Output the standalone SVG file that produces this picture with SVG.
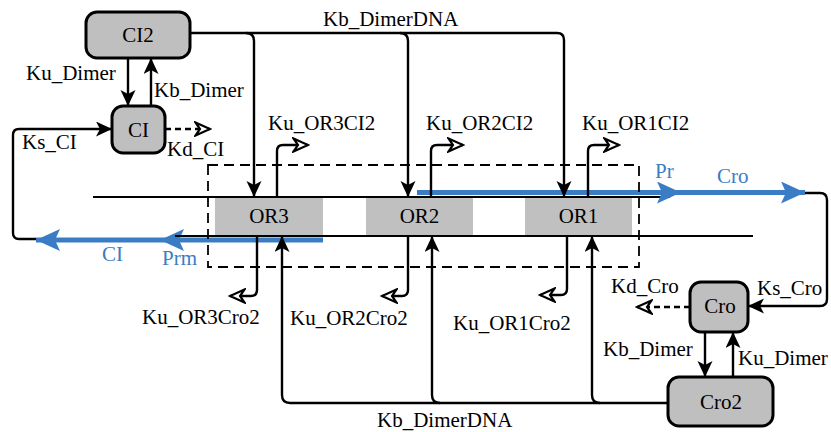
<svg xmlns="http://www.w3.org/2000/svg" width="831" height="432" viewBox="0 0 831 432">
  <style>
    text { font-family: "Liberation Serif", "Times New Roman", serif; font-size: 21px; fill: #000; }
    .blue-t { fill: #3b7dc4; }
    .node { fill: #bfbfbf; stroke: #000; stroke-width: 3; }
    .site { fill: #c0c0c0; stroke: none; }
    .mid { text-anchor: middle; }
    .ln { fill: none; stroke: #000; stroke-width: 2.4; }
    .dash { fill: none; stroke: #000; stroke-width: 2.4; stroke-dasharray: 6 4; }
    .dna { fill: none; stroke: #000; stroke-width: 2.2; }
    .tr { fill: none; stroke: #3b7dc4; stroke-width: 5; }
    .box { fill: none; stroke: #000; stroke-width: 1.8; stroke-dasharray: 10 6; }
  </style>
  <defs>
    <marker id="ah" markerUnits="userSpaceOnUse" markerWidth="17" markerHeight="16" refX="16" refY="7.5" orient="auto">
      <path d="M0,0 L16,7.5 L0,15 L4,7.5 z" fill="#000"/>
    </marker>
    <marker id="oh" markerUnits="userSpaceOnUse" markerWidth="18" markerHeight="16" refX="16" refY="8" orient="auto">
      <path d="M1.5,1.5 L16,8 L1.5,14.5 L6,8 z" fill="#fff" stroke="#000" stroke-width="2.2" stroke-dasharray="none"/>
    </marker>
    <marker id="bh" markerUnits="userSpaceOnUse" markerWidth="25" markerHeight="23" refX="24" refY="11" orient="auto">
      <path d="M0,0 L24,11 L0,22 L5,11 z" fill="#3b7dc4"/>
    </marker>
  </defs>

  <!-- DNA strands and transcripts -->
  <g id="dna">
    <rect class="site" x="215" y="198" width="108" height="38"/>
    <rect class="site" x="366" y="198" width="107" height="38"/>
    <rect class="site" x="525" y="198" width="107" height="38"/>
    <path class="tr" d="M323,240 L160,240" marker-end="url(#bh)"/>
    <path class="tr" d="M160,240 L36,240" marker-end="url(#bh)"/>
    <path class="dna" d="M93,197 L670,197"/>
    <path class="dna" d="M175,236 L753,236"/>
    <path class="tr" d="M417,192.5 L681,192.5" marker-end="url(#bh)"/>
    <path class="tr" d="M681,192.5 L805,192.5" marker-end="url(#bh)"/>
    <rect class="box" x="208" y="165" width="431" height="102"/>
  </g>

  <g id="OR3"><text class="mid" x="269" y="223">OR3</text></g>
  <g id="OR2"><text class="mid" x="419.5" y="223">OR2</text></g>
  <g id="OR1"><text class="mid" x="578.5" y="223">OR1</text></g>

  <!-- Connectors -->
  <g id="connectors">
    <path class="ln" d="M128,58 L128,106" marker-end="url(#ah)"/>
    <path class="ln" d="M151,106 L151,58" marker-end="url(#ah)"/>
    <path class="ln" d="M36,239 L19,239 Q13,239 13,233 L13,135 Q13,129 19,129 L112,129" marker-end="url(#ah)"/>
    <path class="dash" d="M165,129 L210,129" marker-end="url(#oh)"/>

    <!-- CI2 binding to the operator sites -->
    <path class="ln" d="M190,33 L557,33 Q564,33 564,40 L564,197" marker-end="url(#ah)"/>
    <path class="ln" d="M246,33 Q254,33 254,41 L254,197" marker-end="url(#ah)"/>
    <path class="ln" d="M400,33 Q408,33 408,41 L408,197" marker-end="url(#ah)"/>

    <!-- CI2 unbinding -->
    <path class="ln" d="M277,197 L277,151 Q277,145 283,145 L308,145" marker-end="url(#oh)"/>
    <path class="ln" d="M431,197 L431,151 Q431,145 437,145 L463,145" marker-end="url(#oh)"/>
    <path class="ln" d="M588,197 L588,151 Q588,145 594,145 L619,145" marker-end="url(#oh)"/>

    <!-- Cro2 unbinding -->
    <path class="ln" d="M257,236 L257,290 Q257,296 251,296 L230,296" marker-end="url(#oh)"/>
    <path class="ln" d="M408,236 L408,290 Q408,296 402,296 L382,296" marker-end="url(#oh)"/>
    <path class="ln" d="M567,236 L567,289 Q567,295 561,295 L540,295" marker-end="url(#oh)"/>

    <!-- Cro2 binding to the operator sites -->
    <path class="ln" d="M668,403 L290,403 Q282,403 282,395 L282,236" marker-end="url(#ah)"/>
    <path class="ln" d="M440,403 Q432,403 432,395 L432,236" marker-end="url(#ah)"/>
    <path class="ln" d="M600,403 Q592,403 592,395 L592,236" marker-end="url(#ah)"/>

    <path class="ln" d="M805,193 L820,193 Q827,193 827,200 L827,299 Q827,306 820,306 L748,306" marker-end="url(#ah)"/>
    <path class="dash" d="M690,307 L637,307" marker-end="url(#oh)"/>
    <path class="ln" d="M705,332 L705,377" marker-end="url(#ah)"/>
    <path class="ln" d="M733,377 L733,332" marker-end="url(#ah)"/>
  </g>

  <!-- Species -->
  <g id="CI2">
    <rect class="node" x="86" y="12" width="104" height="46" rx="11"/>
    <text class="mid" x="138" y="42">CI2</text>
  </g>
  <g id="CI">
    <rect class="node" x="112" y="106" width="53" height="47" rx="11"/>
    <text class="mid" x="138.5" y="137">CI</text>
  </g>
  <g id="Cro">
    <rect class="node" x="690" y="282" width="58" height="50" rx="11"/>
    <text class="mid" x="720" y="313">Cro</text>
  </g>
  <g id="Cro2">
    <rect class="node" x="668" y="377" width="105" height="49" rx="11"/>
    <text class="mid" x="721" y="409">Cro2</text>
  </g>

  <!-- Rate labels -->
  <g id="labels">
    <text x="26" y="80">Ku_Dimer</text>
    <text x="154" y="97">Kb_Dimer</text>
    <text x="22" y="149">Ks_CI</text>
    <text x="167" y="156">Kd_CI</text>
    <text x="323" y="26">Kb_DimerDNA</text>
    <text x="268" y="130">Ku_OR3CI2</text>
    <text x="426" y="130">Ku_OR2CI2</text>
    <text x="582" y="130">Ku_OR1CI2</text>
    <text class="blue-t" x="655" y="178">Pr</text>
    <text class="blue-t" x="717" y="183">Cro</text>
    <text class="blue-t" x="102" y="261">CI</text>
    <text class="blue-t" x="162" y="265">Prm</text>
    <text x="142" y="324">Ku_OR3Cro2</text>
    <text x="290" y="325">Ku_OR2Cro2</text>
    <text x="453" y="330">Ku_OR1Cro2</text>
    <text x="611" y="293">Kd_Cro</text>
    <text x="757" y="295">Ks_Cro</text>
    <text x="603" y="356">Kb_Dimer</text>
    <text x="738" y="365">Ku_Dimer</text>
    <text x="377" y="427">Kb_DimerDNA</text>
  </g>
</svg>
